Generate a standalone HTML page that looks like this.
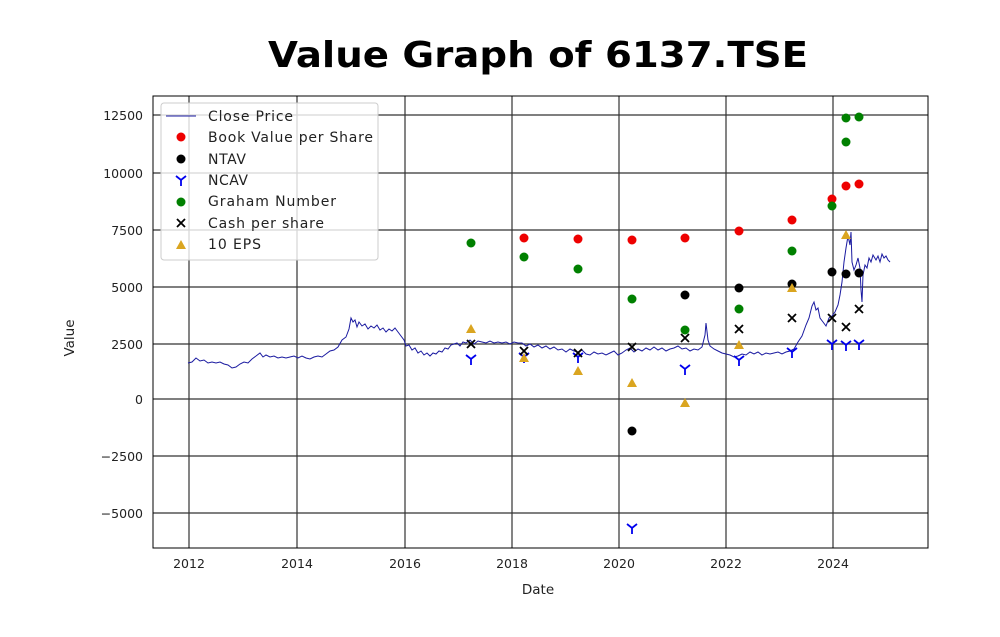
<!DOCTYPE html>
<html><head><meta charset="utf-8"><style>body{margin:0;background:#fff}svg{display:block}</style></head><body>
<svg width="1000" height="637" xmlns="http://www.w3.org/2000/svg" font-family="DejaVu Sans, Liberation Sans, sans-serif">
<rect width="1000" height="637" fill="#fff"/>
<text x="538" y="67" font-size="36" font-weight="bold" text-anchor="middle" textLength="540" lengthAdjust="spacingAndGlyphs">Value Graph of 6137.TSE</text>
<g stroke="#000" stroke-width="1.2" opacity="0.8">
<line x1="189" y1="96" x2="189" y2="548"/><line x1="297" y1="96" x2="297" y2="548"/><line x1="405" y1="96" x2="405" y2="548"/><line x1="512" y1="96" x2="512" y2="548"/><line x1="619" y1="96" x2="619" y2="548"/><line x1="726" y1="96" x2="726" y2="548"/><line x1="833" y1="96" x2="833" y2="548"/>
<line x1="153" y1="115" x2="928" y2="115"/><line x1="153" y1="173" x2="928" y2="173"/><line x1="153" y1="230" x2="928" y2="230"/><line x1="153" y1="287" x2="928" y2="287"/><line x1="153" y1="344" x2="928" y2="344"/><line x1="153" y1="399" x2="928" y2="399"/><line x1="153" y1="456" x2="928" y2="456"/><line x1="153" y1="513" x2="928" y2="513"/>
</g>
<rect x="153" y="96" width="775" height="452" fill="none" stroke="#000" stroke-width="1"/>
<g font-size="12.5" fill="#222" text-anchor="end">
<text x="143" y="120">12500</text><text x="143" y="178">10000</text><text x="143" y="235">7500</text><text x="143" y="292">5000</text><text x="143" y="349">2500</text><text x="143" y="404">0</text><text x="143" y="461">−2500</text><text x="143" y="518">−5000</text>
</g>
<g font-size="12.5" fill="#222" text-anchor="middle">
<text x="189" y="568">2012</text><text x="297" y="568">2014</text><text x="405" y="568">2016</text><text x="512" y="568">2018</text><text x="619" y="568">2020</text><text x="726" y="568">2022</text><text x="833" y="568">2024</text>
</g>
<text x="538" y="594" font-size="13.5" text-anchor="middle" fill="#222">Date</text>
<text transform="translate(74,338) rotate(-90)" font-size="13.5" text-anchor="middle" fill="#222">Value</text>
<polyline fill="none" stroke="#1a1aa0" stroke-width="1" points="188,363 192,362 196,358 200,361 204,360 208,363 212,362 216,363 220,362 224,364 228,365 232,368 236,367 240,364 244,362 248,363 252,359 256,356 260,353 263,357 266,355 270,357 274,356 278,358 282,357 286,358 290,357 294,356 298,358 302,356 306,358 310,359 314,357 318,356 322,357 326,354 330,351 334,350 338,347 342,340 346,337 349,329 351,318 353,322 355,320 357,327 359,322 362,326 365,324 368,329 371,326 374,328 377,325 380,330 383,328 386,332 389,329 392,331 395,328 398,332 401,336 404,340 406,346 409,345 412,350 415,348 418,353 421,351 424,355 427,353 430,356 433,353 436,354 439,351 442,352 445,348 448,349 451,345 454,344 457,343 460,346 463,342 466,343 470,340 474,344 478,341 482,342 486,343 490,341 494,343 498,342 502,343 506,342 510,344 514,342 518,343 522,343 526,346 530,344 534,347 538,345 542,348 546,346 550,349 554,347 558,350 562,349 566,352 570,349 574,351 578,352 582,350 586,354 590,355 594,352 598,354 602,353 606,355 610,353 614,351 618,355 622,353 626,350 630,348 634,352 638,349 642,351 646,348 650,350 654,347 658,350 662,348 666,351 670,349 674,348 678,346 682,349 686,348 690,351 694,349 698,350 702,347 705,335 706,323 708,340 710,346 714,349 718,351 722,353 726,354 730,355 734,357 738,356 742,354 746,355 750,352 754,354 758,352 762,355 766,353 770,354 774,353 778,352 782,354 786,352 790,351 794,349 798,342 802,336 806,325 809,318 812,306 814,302 816,310 818,308 820,318 823,322 826,326 829,318 832,316 835,312 838,305 840,295 842,282 844,262 846,248 848,236 850,245 851,232 852,262 854,270 856,265 858,258 860,268 861,290 862,302 863,275 865,265 867,268 869,258 871,262 873,255 876,260 878,256 880,262 882,254 884,258 886,256 888,260 890,262"/>
<g fill="#ee0000">
<circle cx="524" cy="238" r="4.5"/><circle cx="578" cy="239" r="4.5"/><circle cx="632" cy="240" r="4.5"/><circle cx="685" cy="238" r="4.5"/><circle cx="739" cy="231" r="4.5"/><circle cx="792" cy="220" r="4.5"/><circle cx="832" cy="199" r="4.5"/><circle cx="846" cy="186" r="4.5"/><circle cx="859" cy="184" r="4.5"/>
</g>
<g fill="#000">
<circle cx="632" cy="431" r="4.5"/><circle cx="685" cy="295" r="4.5"/><circle cx="739" cy="288" r="4.5"/><circle cx="792" cy="284" r="4.5"/><circle cx="832" cy="272" r="4.5"/><circle cx="846" cy="274" r="4.5"/><circle cx="859" cy="273" r="4.5"/>
</g>
<g fill="#008000">
<circle cx="471" cy="243" r="4.5"/><circle cx="524" cy="257" r="4.5"/><circle cx="578" cy="269" r="4.5"/><circle cx="632" cy="299" r="4.5"/><circle cx="685" cy="330" r="4.5"/><circle cx="739" cy="309" r="4.5"/><circle cx="792" cy="251" r="4.5"/><circle cx="832" cy="206" r="4.5"/><circle cx="846" cy="142" r="4.5"/><circle cx="846" cy="118" r="4.5"/><circle cx="859" cy="117" r="4.5"/>
</g>
<g stroke="#0000ee" stroke-width="1.8" fill="none">
<path d="M466,355l5,4l5,-4M471,359v6"/><path d="M519,353l5,4l5,-4M524,357v6"/><path d="M573,353l5,4l5,-4M578,357v6"/><path d="M627,524l5,4l5,-4M632,528v6"/><path d="M680,365l5,4l5,-4M685,369v6"/><path d="M734,356l5,4l5,-4M739,360v6"/><path d="M787,348l5,4l5,-4M792,352v6"/><path d="M827,340l5,4l5,-4M832,344v6"/><path d="M841,341l5,4l5,-4M846,345v6"/><path d="M854,340l5,4l5,-4M859,344v6"/>
</g>
<g fill="#daa520">
<path d="M471,324l5,9h-10z"/><path d="M524,353l5,9h-10z"/><path d="M578,366l5,9h-10z"/><path d="M632,378l5,9h-10z"/><path d="M685,398l5,9h-10z"/><path d="M739,340l5,9h-10z"/><path d="M792,283l5,9h-10z"/><path d="M846,230l5,9h-10z"/>
</g>
<g stroke="#000" stroke-width="1.8">
<path d="M467,340l8,8M475,340l-8,8"/><path d="M520,347l8,8M528,347l-8,8"/><path d="M574,349l8,8M582,349l-8,8"/><path d="M628,343l8,8M636,343l-8,8"/><path d="M681,334l8,8M689,334l-8,8"/><path d="M735,325l8,8M743,325l-8,8"/><path d="M788,314l8,8M796,314l-8,8"/><path d="M828,314l8,8M836,314l-8,8"/><path d="M842,323l8,8M850,323l-8,8"/><path d="M855,305l8,8M863,305l-8,8"/>
</g>
<rect x="161" y="103" width="217" height="157" rx="3" fill="#fff" fill-opacity="0.8" stroke="#ccc"/>
<line x1="166" y1="116" x2="196" y2="116" stroke="#1a1aa0" stroke-width="1"/>
<circle cx="181" cy="137" r="4.5" fill="#ee0000"/>
<circle cx="181" cy="159" r="4.5" fill="#000"/>
<path d="M176,176l5,4l5,-4M181,180v6" stroke="#0000ee" stroke-width="1.8" fill="none"/>
<circle cx="181" cy="202" r="4.5" fill="#008000"/>
<path d="M177,219l8,8M185,219l-8,8" stroke="#000" stroke-width="1.8"/>
<path d="M181,240l5,9h-10z" fill="#daa520"/>
<g font-size="14" fill="#222" lengthAdjust="spacingAndGlyphs">
<text x="208" y="121" textLength="85">Close Price</text><text x="208" y="142" textLength="165">Book Value per Share</text><text x="208" y="164" textLength="38">NTAV</text><text x="208" y="185" textLength="40">NCAV</text><text x="208" y="206" textLength="128">Graham Number</text><text x="208" y="228" textLength="116">Cash per share</text><text x="208" y="249" textLength="53">10 EPS</text>
</g>
</svg>
</body></html>
